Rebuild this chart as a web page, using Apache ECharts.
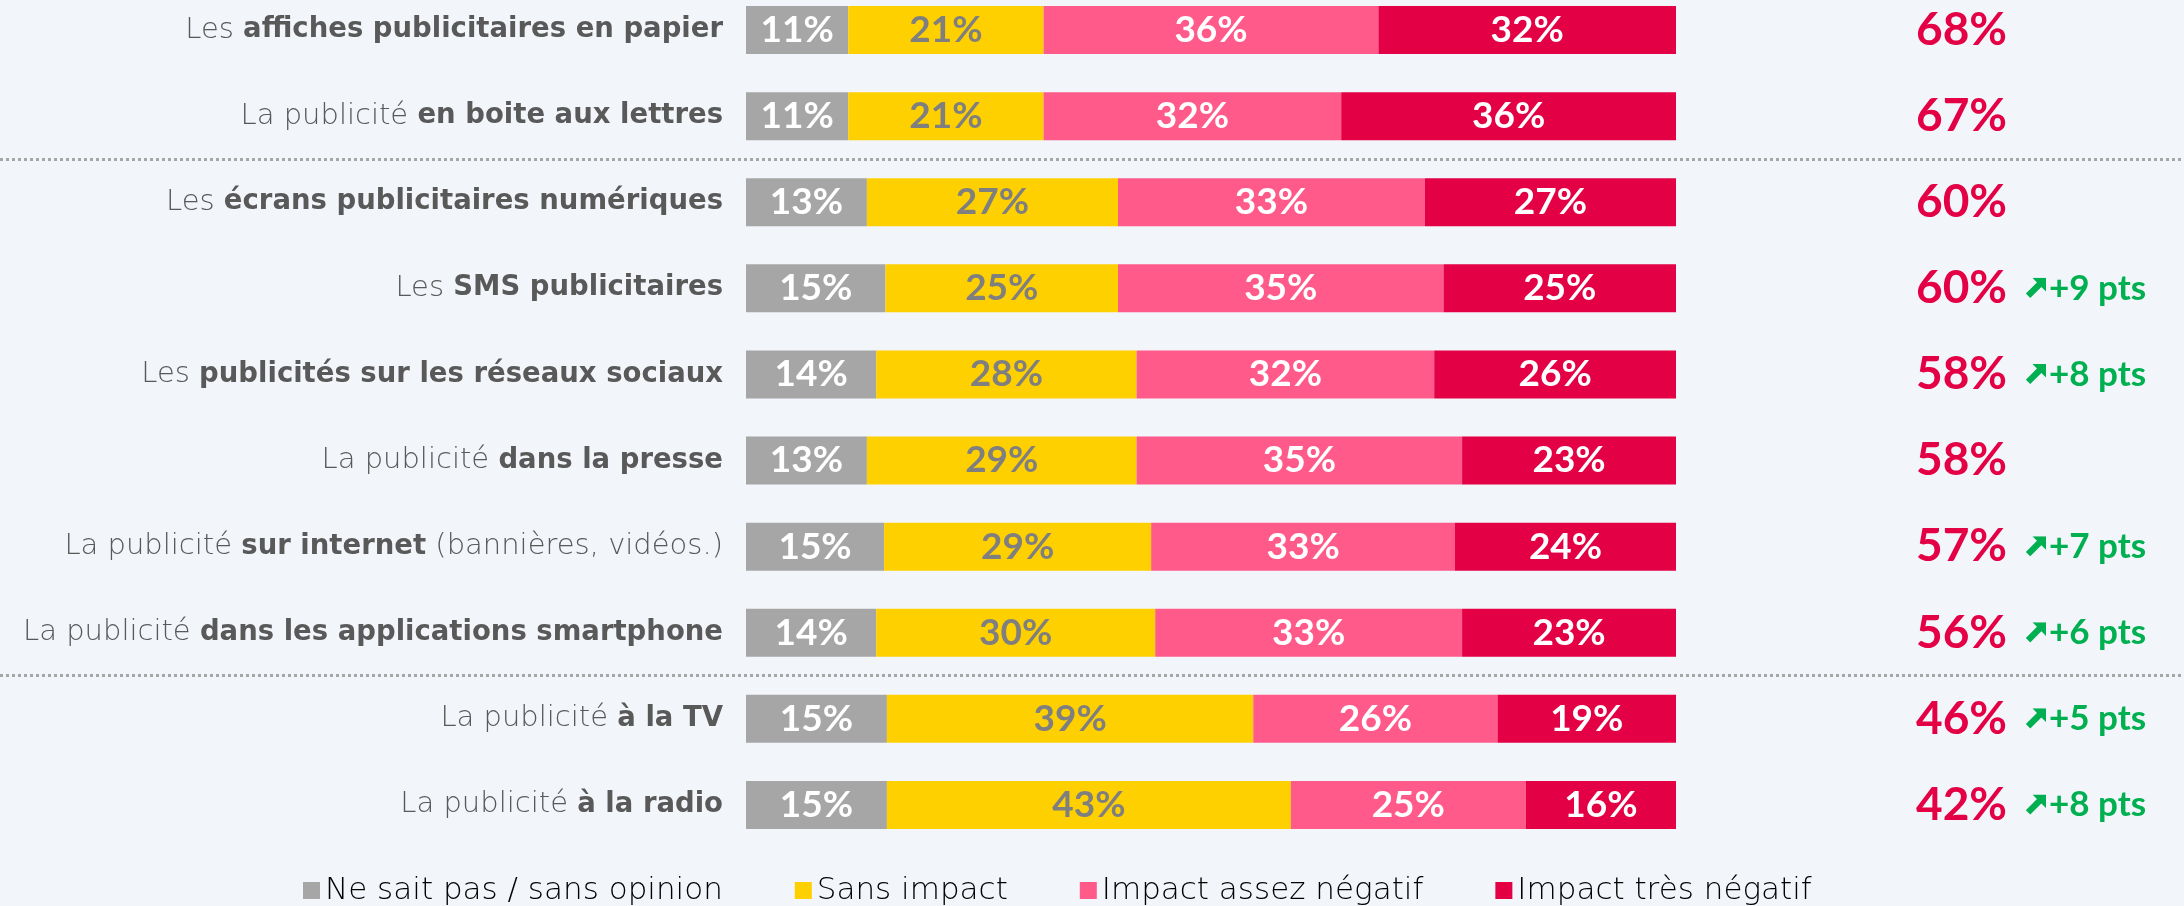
<!DOCTYPE html>
<html lang="fr">
  <head>
    <meta charset="UTF-8" />
    <script src="https://cdn.jsdelivr.net/npm/echarts@6/dist/echarts.min.js"></script>
    <title>Impact des publicités</title>
  </head>
  <body style="margin: 0; background: #f2f5fa">
    <div id="chart" style="width: 2184px; height: 906px"></div>
  </body>
</html>

<script>
  // libellés : partie normale + partie en gras
  const prefixes = ["Les", "La publicité", "Les", "Les", "Les", "La publicité", "La publicité", "La publicité", "La publicité", "La publicité"];
  const boldParts = [
    "affiches publicitaires en papier",
    "en boite aux lettres",
    "écrans publicitaires numériques",
    "SMS publicitaires",
    "publicités sur les réseaux sociaux",
    "dans la presse",
    "sur internet",
    "dans les applications smartphone",
    "à la TV",
    "à la radio",
  ];
  const suffixes = ["", "", "", "", "", "", " (bannières, vidéos.)", "", "", ""];

  const nsp = [11, 11, 13, 15, 14, 13, 15, 14, 15, 15];
  const sansImpact = [21, 21, 27, 25, 28, 29, 29, 30, 39, 43];
  const assezNeg = [36, 32, 33, 35, 32, 35, 33, 33, 26, 25];
  const tresNeg = [32, 36, 27, 25, 26, 23, 24, 23, 19, 16];
  const totalNeg = [68, 67, 60, 60, 58, 58, 57, 56, 46, 42];
  const evolution = [null, null, null, 9, 8, null, 7, 6, 5, 8];
  const groupBreaks = [2, 8];

  const seriesNames = ["Ne sait pas / sans opinion", "Sans impact", "Impact assez négatif", "Impact très négatif"];
  const colors = ["#a6a6a6", "#ffd000", "#ff5a8a", "#e30045"];
  const labelColors = ["#ffffff", "#7f7f7f", "#ffffff", "#ffffff"];

  const categories = prefixes.map((p, i) => p + " " + boldParts[i] + suffixes[i]);
  const font = "Lato";
  const wide = "DejaVu Sans";

  // petite flèche verte pleine (nord-est)
  const arrowSvg =
    "data:image/svg+xml;charset=utf-8," +
    encodeURIComponent(
      '<svg xmlns="http://www.w3.org/2000/svg" width="20" height="20" viewBox="0 0 20 20">' +
        '<path fill="#00b050" d="M20 0 L20 13 L15.6 8.6 L5 19.2 L0.8 15 L11.4 4.4 L7 0 Z"/></svg>'
    );

  const chart = echarts.init(document.getElementById("chart"), null, { renderer: "canvas" });

  // chaque barre ramenée à 100 (les arrondis donnent parfois 99 ou 101)
  const rows = [nsp, sansImpact, assezNeg, tresNeg];
  const rowSum = nsp.map((v, i) => nsp[i] + sansImpact[i] + assezNeg[i] + tresNeg[i]);

  const barSeries = rows.map((values, s) => ({
    name: seriesNames[s],
    type: "bar",
    stack: "total",
    barWidth: 48,
    xAxisIndex: 0,
    yAxisIndex: 0,
    itemStyle: { color: colors[s] },
    label: {
      show: true,
      position: "inside",
      formatter: (p) => p.data.raw + "%",
      color: labelColors[s],
      fontFamily: font,
      fontWeight: "bold",
      fontSize: 37,
    },
    data: values.map((v, i) => ({ value: (v / rowSum[i]) * 100, raw: v })),
  }));

  const option = {
    backgroundColor: "#f2f5fa",
    animation: false,
    textStyle: { fontFamily: font },
    legend: {
      left: 298,
      top: 870,
      itemWidth: 17,
      itemHeight: 17,
      itemGap: 72,
      icon: "rect",
      textStyle: { fontFamily: wide, fontSize: 31, fontWeight: 200, color: "#000000" },
      data: seriesNames,
    },
    grid: [
      { left: 746, right: 508, top: -13, height: 861, outerBoundsMode: "none" },
      // grille pleine largeur pour les séparateurs pointillés (une bande de plus pour sortir le dernier trait du cadre)
      { left: 0, right: 0, top: -13, height: 947, outerBoundsMode: "none" },
    ],
    xAxis: [
      { gridIndex: 0, type: "value", min: 0, max: 100, show: false },
      { gridIndex: 1, type: "value", min: 0, max: 1, show: false },
    ],
    yAxis: [
      {
        gridIndex: 0,
        type: "category",
        data: categories,
        inverse: true,
        axisLine: { show: false },
        axisTick: { show: false },
        axisLabel: {
          margin: 23,
          fontFamily: wide,
          fontSize: 29,
          fontWeight: 200,
          color: "#595959",
          formatter: (v, i) => prefixes[i] + " {b|" + boldParts[i] + "}" + suffixes[i],
          rich: {
            b: { fontFamily: wide, fontSize: 27.5, fontWeight: "bold", color: "#595959" },
          },
        },
      },
      {
        gridIndex: 0,
        type: "category",
        position: "right",
        data: categories,
        inverse: true,
        axisLine: { show: false },
        axisTick: { show: false },
        axisLabel: {
          margin: 240,
          align: "left",
          formatter: (v, i) => {
            let s = "{t|" + totalNeg[i] + "%}";
            if (evolution[i] !== null) s += "{a|}{g|+" + evolution[i] + " pts}";
            return s;
          },
          rich: {
            t: { width: 109, fontFamily: font, fontSize: 46, fontWeight: "bold", color: "#e30045" },
            a: { width: 21, height: 21, backgroundColor: { image: arrowSvg } },
            g: { fontFamily: font, fontSize: 35, fontWeight: "bold", color: "#00b050", padding: [0, 0, 0, 3] },
          },
        },
      },
      {
        gridIndex: 1,
        type: "category",
        data: categories.concat([""]),
        inverse: true,
        axisLine: { show: false },
        axisTick: { show: false },
        axisLabel: { show: false },
        splitLine: {
          show: true,
          interval: (i) => groupBreaks.includes(i),
          lineStyle: { color: "#a6a6a6", width: 3, type: [3, 3] },
        },
      },
    ],
    series: barSeries,
  };

  chart.setOption(option);
</script>
